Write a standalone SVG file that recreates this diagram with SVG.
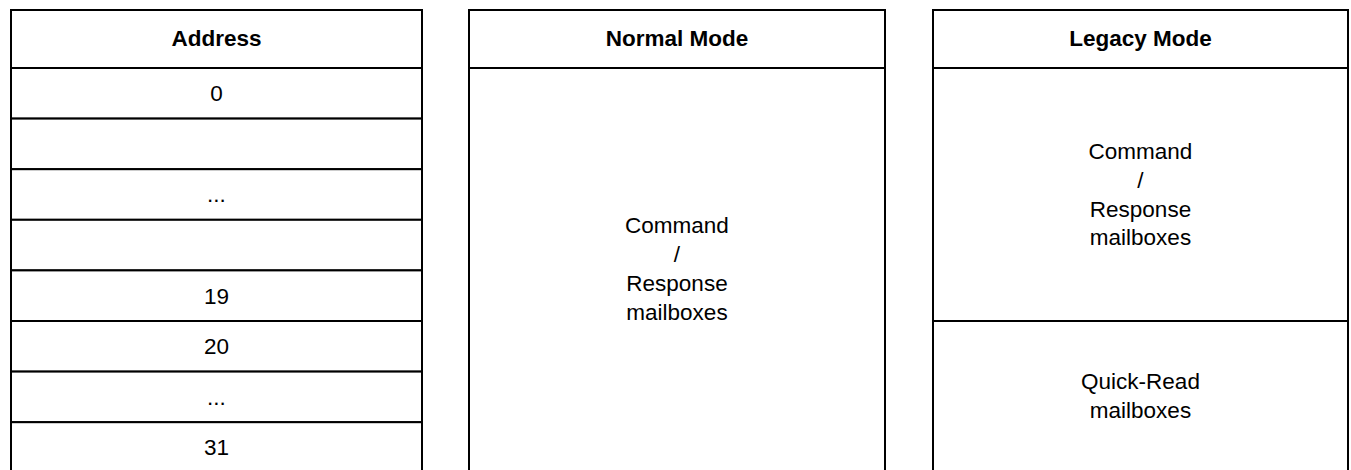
<svg xmlns="http://www.w3.org/2000/svg" width="1351" height="470" viewBox="0 0 1351 470">
<style>
.cell{fill:#fff;stroke:#000;stroke-width:2}
.h{font-family:"Liberation Sans",Arial,sans-serif;font-size:22.5px;font-weight:bold;text-anchor:middle;fill:#000}
.t{font-family:"Liberation Sans",Arial,sans-serif;font-size:22.5px;text-anchor:middle;fill:#000}
</style>
<rect width="1351" height="470" fill="#fff"/>
<g id="address-table">
<g id="address-header"><rect class="cell" x="11" y="10" width="411" height="58"/><text class="h" x="216.5" y="46">Address</text></g>
<g id="addr-0"><rect class="cell" x="11" y="68" width="411" height="50.6"/><text class="t" x="216.5" y="101">0</text></g>
<g id="addr-1"><rect class="cell" x="11" y="118.6" width="411" height="50.6"/></g>
<g id="addr-2"><rect class="cell" x="11" y="169.2" width="411" height="50.6"/><text class="t" x="216.5" y="202">...</text></g>
<g id="addr-3"><rect class="cell" x="11" y="219.8" width="411" height="50.6"/></g>
<g id="addr-19"><rect class="cell" x="11" y="270.4" width="411" height="50.6"/><text class="t" x="216.5" y="304">19</text></g>
<g id="addr-20"><rect class="cell" x="11" y="321" width="411" height="50.6"/><text class="t" x="216.5" y="354">20</text></g>
<g id="addr-21"><rect class="cell" x="11" y="371.6" width="411" height="50.6"/><text class="t" x="216.5" y="405">...</text></g>
<g id="addr-31"><rect class="cell" x="11" y="422.2" width="411" height="60"/><text class="t" x="216.5" y="455">31</text></g>
</g>
<g id="normal-table">
<g id="normal-header"><rect class="cell" x="469" y="10" width="416" height="58"/><text class="h" x="677" y="46">Normal Mode</text></g>
<g id="normal-mailboxes"><rect class="cell" x="469" y="68" width="416" height="420"/>
<text class="t" x="677" y="233">Command</text><text class="t" x="677" y="262">/</text><text class="t" x="677" y="291">Response</text><text class="t" x="677" y="320">mailboxes</text></g>
</g>
<g id="legacy-table">
<g id="legacy-header"><rect class="cell" x="933" y="10" width="415" height="58"/><text class="h" x="1140.5" y="46">Legacy Mode</text></g>
<g id="legacy-cmd"><rect class="cell" x="933" y="68" width="415" height="253"/>
<text class="t" x="1140.5" y="159">Command</text><text class="t" x="1140.5" y="188">/</text><text class="t" x="1140.5" y="217">Response</text><text class="t" x="1140.5" y="245">mailboxes</text></g>
<g id="legacy-quick"><rect class="cell" x="933" y="321" width="415" height="170"/>
<text class="t" x="1140.5" y="389">Quick-Read</text><text class="t" x="1140.5" y="418">mailboxes</text></g>
</g>
<g id="connectors"/>
</svg>
